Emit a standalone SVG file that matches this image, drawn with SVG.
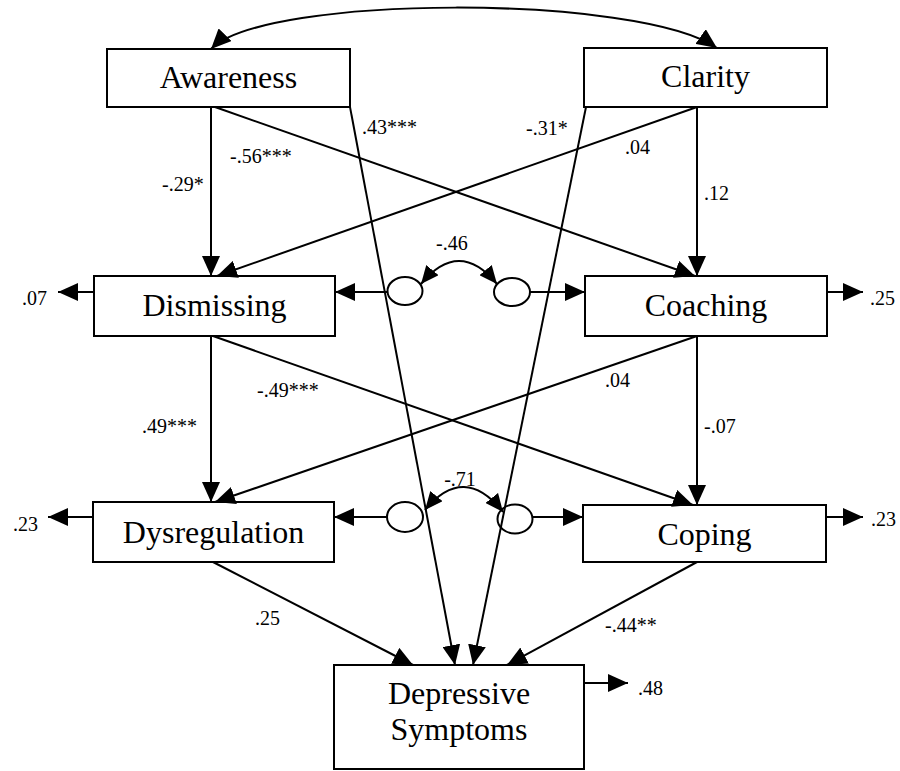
<svg xmlns="http://www.w3.org/2000/svg" width="900" height="771" viewBox="0 0 900 771">
<style>
.box{fill:#fff;stroke:#000;stroke-width:2}
.err{fill:#fff;stroke:#000;stroke-width:2}
text{font-family:'Liberation Serif','Times New Roman',serif;fill:#000}
.nt{font-size:32px;text-anchor:middle}
.lb{font-size:20px}
.ln{fill:none;stroke:#000;stroke-width:2}
.a{marker-end:url(#ah)}
.c{marker-end:url(#ahs);marker-start:url(#ahs)}
.t{marker-end:url(#ah);marker-start:url(#ah)}
</style>
<defs>
<marker id="ah" markerUnits="userSpaceOnUse" viewBox="0 0 20 18" refX="20" refY="9" markerWidth="20" markerHeight="18" orient="auto-start-reverse"><path d="M0,0 L20,9 L0,18 z" fill="#000"/></marker>
<marker id="ahs" markerUnits="userSpaceOnUse" viewBox="0 0 18 16" refX="18" refY="8" markerWidth="18" markerHeight="16" orient="auto-start-reverse"><path d="M0,0 L18,8 L0,16 z" fill="#000"/></marker>
</defs>
<rect width="900" height="771" fill="#fff"/>
<g id="awareness"><rect class="box" x="107" y="49" width="243" height="58"/><text class="nt" x="228.5" y="88">Awareness</text></g>
<g id="clarity"><rect class="box" x="584" y="48" width="243" height="59"/><text class="nt" x="705.5" y="87">Clarity</text></g>
<g id="dismissing"><rect class="box" x="94" y="276" width="241" height="60"/><text class="nt" x="214.5" y="316">Dismissing</text></g>
<g id="coaching"><rect class="box" x="585" y="276" width="242" height="60"/><text class="nt" x="706" y="316">Coaching</text></g>
<g id="dysregulation"><rect class="box" x="93" y="502" width="241" height="60"/><text class="nt" x="213.5" y="543">Dysregulation</text></g>
<g id="coping"><rect class="box" x="583" y="505" width="243" height="57"/><text class="nt" x="704.5" y="545">Coping</text></g>
<g id="depressive"><rect class="box" x="334" y="665" width="250" height="104"/><text class="nt" x="459" y="704">Depressive</text><text class="nt" x="459" y="740">Symptoms</text></g>
<g id="e-dismissing"><ellipse class="err" cx="405" cy="291" rx="17.5" ry="14"/></g>
<g id="e-coaching"><ellipse class="err" cx="512" cy="292" rx="18" ry="14"/></g>
<g id="e-dysregulation"><ellipse class="err" cx="405" cy="517" rx="18" ry="15"/></g>
<g id="e-coping"><ellipse class="err" cx="515" cy="519" rx="17.5" ry="14.5"/></g>
<g id="connectors">
<path class="ln t" d="M211,49 C265,-6 640,-6 717,48"/>
<line class="ln a" x1="211" y1="107" x2="211" y2="276"/>
<line class="ln a" x1="215" y1="107" x2="695" y2="276"/>
<line class="ln a" x1="350" y1="107" x2="455" y2="665"/>
<line class="ln a" x1="586" y1="107" x2="473" y2="665"/>
<line class="ln a" x1="697" y1="107" x2="217" y2="276"/>
<line class="ln a" x1="697" y1="107" x2="697" y2="276"/>
<line class="ln a" x1="211" y1="336" x2="211" y2="502"/>
<line class="ln a" x1="213" y1="336" x2="693" y2="505"/>
<line class="ln a" x1="697" y1="336" x2="215" y2="502"/>
<line class="ln a" x1="697" y1="336" x2="697" y2="505"/>
<line class="ln a" x1="213" y1="562" x2="413" y2="665"/>
<line class="ln a" x1="697" y1="562" x2="507" y2="665"/>
<line class="ln a" x1="387" y1="292" x2="335" y2="292"/>
<line class="ln a" x1="530" y1="292" x2="585" y2="292"/>
<line class="ln a" x1="387" y1="517" x2="334" y2="517"/>
<line class="ln a" x1="533" y1="517" x2="583" y2="517"/>
<line class="ln a" x1="94" y1="292" x2="58" y2="292"/>
<line class="ln a" x1="827" y1="292" x2="863" y2="292"/>
<line class="ln a" x1="93" y1="517" x2="48" y2="517"/>
<line class="ln a" x1="826" y1="517" x2="863" y2="517"/>
<line class="ln a" x1="584" y1="683" x2="628" y2="683"/>
<path class="ln c" d="M421,284 Q459,238 497,284"/>
<path class="ln c" d="M425,510 Q464,463 503,512"/>
</g>
<g id="labels">
<text class="lb" x="162" y="191">-.29*</text>
<text class="lb" x="230" y="163">-.56***</text>
<text class="lb" x="362" y="134">.43***</text>
<text class="lb" x="526" y="135">-.31*</text>
<text class="lb" x="625" y="154">.04</text>
<text class="lb" x="704" y="200">.12</text>
<text class="lb" x="436" y="250">-.46</text>
<text class="lb" x="22" y="305">.07</text>
<text class="lb" x="870" y="305">.25</text>
<text class="lb" x="257" y="397">-.49***</text>
<text class="lb" x="142" y="433">.49***</text>
<text class="lb" x="605" y="387">.04</text>
<text class="lb" x="704" y="433">-.07</text>
<text class="lb" x="460" y="486" text-anchor="middle">-.71</text>
<text class="lb" x="13" y="531">.23</text>
<text class="lb" x="871" y="526">.23</text>
<text class="lb" x="255" y="625">.25</text>
<text class="lb" x="605" y="632">-.44**</text>
<text class="lb" x="638" y="695">.48</text>
</g>
</svg>
